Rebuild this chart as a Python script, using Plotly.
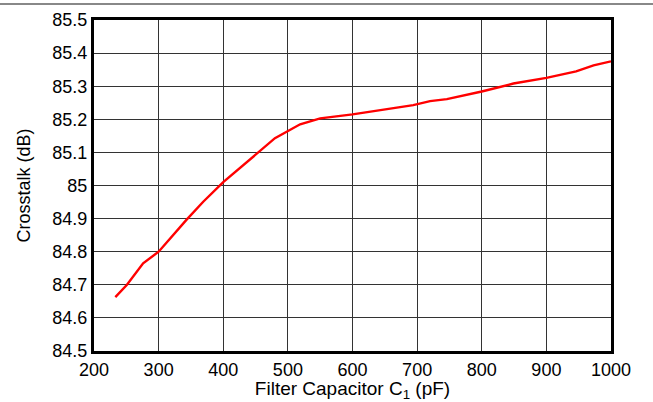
import plotly.graph_objects as go

capacitance_pf = [233, 251, 276, 300, 343, 369, 400, 430, 455, 480, 519, 550, 600, 653, 694, 720, 746, 800, 849, 900, 946, 973, 1000]
crosstalk_db = [84.663, 84.70, 84.765, 84.80, 84.896, 84.951, 85.01, 85.06, 85.10, 85.143, 85.185, 85.203, 85.215, 85.23, 85.243, 85.255, 85.261, 85.284, 85.308, 85.325, 85.345, 85.363, 85.375]

x_ticks = [200, 300, 400, 500, 600, 700, 800, 900, 1000]
y_ticks = [84.5, 84.6, 84.7, 84.8, 84.9, 85.0, 85.1, 85.2, 85.3, 85.4, 85.5]
y_labels = ["84.5", "84.6", "84.7", "84.8", "84.9", "85", "85.1", "85.2", "85.3", "85.4", "85.5"]

fig = go.Figure()
fig.add_trace(go.Scatter(x=capacitance_pf, y=crosstalk_db, mode="lines",
                         line=dict(color="#ff0000", width=2.4), showlegend=False))

font = "Liberation Sans, Arial, sans-serif"
fig.update_layout(
    width=653, height=402,
    margin=dict(l=94, r=42, t=20, b=51),
    paper_bgcolor="white", plot_bgcolor="white",
    font=dict(family=font, size=18, color="black"),
    xaxis=dict(range=[200, 1000], tickvals=x_ticks, ticks="", showgrid=True,
               gridcolor="#333333", gridwidth=1, showline=True, linecolor="black",
               linewidth=3, mirror=True, zeroline=False, tickfont=dict(size=18),
               automargin=False,
               title=dict(text="Filter Capacitor C<sub>1</sub> (pF)", font=dict(size=19), standoff=3)),
    yaxis=dict(range=[84.5, 85.5], tickvals=y_ticks, ticktext=y_labels, ticks="",
               showgrid=True, gridcolor="#333333", gridwidth=1, showline=True,
               linecolor="black", linewidth=3, mirror=True, zeroline=False,
               tickfont=dict(size=18), automargin=False,
               title=dict(text="Crosstalk (dB)", font=dict(size=18), standoff=18)),
    shapes=[dict(type="line", xref="paper", yref="paper",
                 x0=-94/517, x1=559/517, y0=(351-4)/331, y1=(351-4)/331,
                 line=dict(color="#888888", width=2))],
)

fig.write_html("out.html", config={"displayModeBar": False},
               post_script="document.body.style.margin='0';")
